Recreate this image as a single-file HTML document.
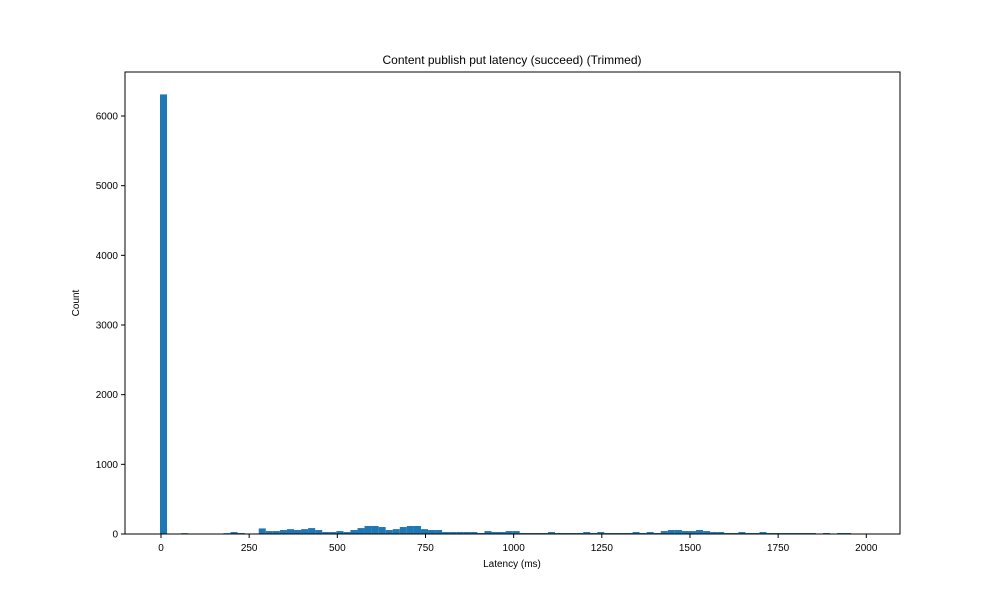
<!DOCTYPE html>
<html><head><meta charset="utf-8"><style>
body{margin:0;background:#fff;font-family:"Liberation Sans","DejaVu Sans",sans-serif}
</style></head><body>
<svg id="chart" width="1000" height="600" xmlns="http://www.w3.org/2000/svg">
<rect width="1000" height="600" fill="#fff"/>
<text x="512" y="64" font-size="12" text-anchor="middle">Content publish put latency (succeed) (Trimmed)</text>
<g id="bars"></g>
<rect x="125" y="72" width="775" height="462" fill="none" stroke="#000" stroke-width="1"/>
<g id="xt"></g>
<g id="yt"></g>
<text x="512" y="567" font-size="10" text-anchor="middle">Latency (ms)</text>
<text x="79" y="303" font-size="10" text-anchor="middle" transform="rotate(-90 79 303)">Count</text>
</svg>
<script>
const binStart = 0;
const binWidth = 20;
const counts = [6310,0,0,12,0,0,0,0,0,12,28,14,0,8,80,42,42,57,70,57,70,85,57,28,28,42,28,57,85,115,115,100,57,70,100,115,115,70,57,57,28,28,28,28,28,14,42,28,28,42,42,14,14,14,14,28,14,14,14,14,28,14,28,14,14,14,14,28,14,28,14,42,57,57,42,42,57,42,28,28,14,14,28,14,14,28,14,14,14,14,14,14,14,0,14,0,14,14,0,0];
const xTicks = [0,250,500,750,1000,1250,1500,1750,2000];
const yTicks = [0,1000,2000,3000,4000,5000,6000];
const NS="http://www.w3.org/2000/svg";
const xs = v => 161 + v*(705.3/2000);
const ys = v => 534 - v*(418/6000);
const bars=document.getElementById('bars');
counts.forEach((c,i)=>{
  if(c<=0) return;
  const r=document.createElementNS(NS,'rect');
  const x0=xs(binStart+i*binWidth)-1, x1=xs(binStart+(i+1)*binWidth)-1;
  r.setAttribute('x',x0);r.setAttribute('width',x1-x0);
  r.setAttribute('y',ys(c));r.setAttribute('height',534-ys(c));
  r.setAttribute('fill','#1f77b4');
  
  
  bars.appendChild(r);
});
const xt=document.getElementById('xt');
xTicks.forEach(t=>{
  const x=xs(t);
  const l=document.createElementNS(NS,'line');
  l.setAttribute('x1',x);l.setAttribute('x2',x);l.setAttribute('y1',534);l.setAttribute('y2',538);l.setAttribute('stroke','#000');
  
  
  xt.appendChild(l);
  const tx=document.createElementNS(NS,'text');
  tx.setAttribute('x',x);tx.setAttribute('y',551);tx.setAttribute('font-size','10');tx.setAttribute('text-anchor','middle');
  tx.textContent=t;
  
  
  xt.appendChild(tx);
});
const yt=document.getElementById('yt');
yTicks.forEach(t=>{
  const y=ys(t);
  const l=document.createElementNS(NS,'line');
  l.setAttribute('x1',121);l.setAttribute('x2',125);l.setAttribute('y1',y);l.setAttribute('y2',y);l.setAttribute('stroke','#000');
  
  
  yt.appendChild(l);
  const tx=document.createElementNS(NS,'text');
  tx.setAttribute('x',118);tx.setAttribute('y',y+3.5);tx.setAttribute('font-size','10');tx.setAttribute('text-anchor','end');
  tx.textContent=t;
  
  
  yt.appendChild(tx);
});
</script>
</body></html>
